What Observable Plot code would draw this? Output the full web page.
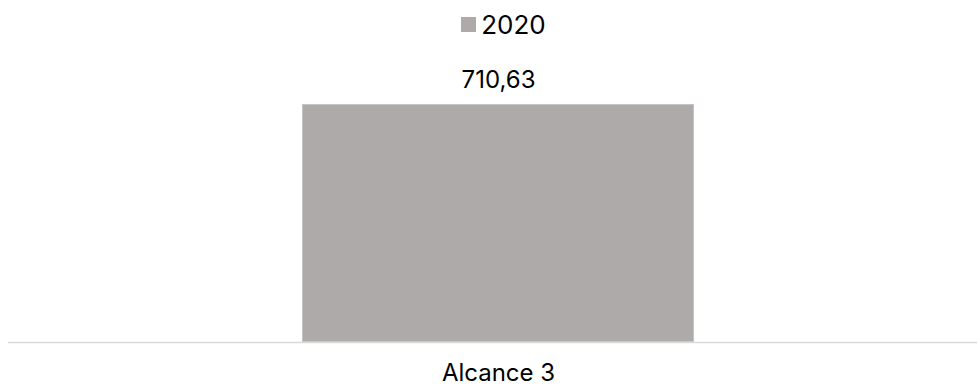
<!DOCTYPE html>
<html>
<head>
<meta charset="utf-8">
<script src="https://cdn.jsdelivr.net/npm/d3@7"></script>
<script src="https://cdn.jsdelivr.net/npm/@observablehq/plot@0.6"></script>
<style>
  html, body { margin: 0; padding: 0; background: #fff; }
  body { width: 977px; height: 386px; overflow: hidden; font-family: Inter, "Noto Sans", sans-serif; }
  #legend { height: 48px; display: flex; align-items: center; justify-content: center; gap: 5px; font-size: 26px; color: #000; padding-left: 30px; box-sizing: border-box; }
  #legend .sw { width: 15px; height: 15px; background: #aeaaa9; display: inline-block; }
  #chart svg { display: block; }
</style>
</head>
<body>
<div id="legend"></div>
<div id="chart"></div>
<script>
const categories = ["Alcance 3"];
const series = ["2020"];
const values2020 = [710.63];
const labels = ["710,63"];
const colors = ["#aeaaa9"];

const data = categories.map((c, i) => ({cat: c, value: values2020[i], label: labels[i]}));

const legend = document.getElementById("legend");
series.forEach((s, i) => {
  const sw = document.createElement("span");
  sw.className = "sw";
  sw.style.background = colors[i];
  const t = document.createElement("span");
  t.textContent = s;
  legend.appendChild(sw);
  legend.appendChild(t);
});

const plot = Plot.plot({
  width: 977,
  height: 338,
  marginLeft: 8,
  marginRight: 0,
  marginTop: 56,
  marginBottom: 44,
  style: {fontFamily: "Inter, 'Noto Sans', sans-serif", background: "#fff", overflow: "visible"},
  x: {domain: categories, paddingInner: 0, paddingOuter: 0.733, align: 0.51, label: null},
  y: {domain: [0, d3.max(values2020)], axis: null},
  marks: [
    Plot.barY(data, {x: "cat", y: "value", fill: colors[0], stroke: "#c6c3c2", strokeWidth: 1, inset: 0.5}),
    Plot.ruleY([0], {stroke: "#d9d9d9", strokeWidth: 1.5}),
    Plot.text(data, {x: "cat", y: "value", text: "label", dy: -24, fontSize: 24, fill: "#000"}),
    Plot.axisX({tickSize: 0, tickPadding: 21, fontSize: 24, fill: "#000", label: null})
  ]
});
document.getElementById("chart").appendChild(plot);
</script>
</body>
</html>
